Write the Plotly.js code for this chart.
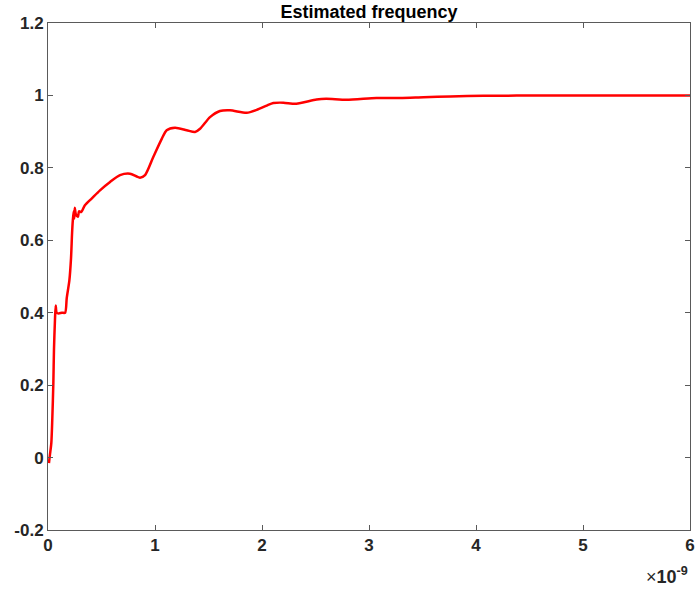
<!DOCTYPE html>
<html>
<head>
<meta charset="utf-8">
<script src="https://cdn.plot.ly/plotly-3.0.1.min.js"></script>
<style>html,body{margin:0;padding:0;background:#fff;}#chart{width:698px;height:592px;}</style>
</head>
<body>
<div id="chart"></div>
<script>
// time in units of 1e-9 s
const timeNs = [0.009, 0.019, 0.031, 0.040, 0.050, 0.056, 0.065, 0.072, 0.081, 0.10, 0.13, 0.16, 0.175, 0.20, 0.215, 0.225, 0.232, 0.24, 0.245, 0.25, 0.26, 0.28, 0.29, 0.31, 0.345, 0.41, 0.486, 0.58, 0.673, 0.766, 0.86, 0.907, 0.984, 1.063, 1.109, 1.187, 1.296, 1.374, 1.421, 1.514, 1.607, 1.701, 1.857, 1.95, 2.044, 2.106, 2.20, 2.32, 2.51, 2.60, 2.79, 3.07, 3.29, 3.51, 3.76, 4.07, 4.38, 5.0, 6.0];
const freq = [-0.015, 0.01, 0.04, 0.105, 0.206, 0.30, 0.38, 0.42, 0.40, 0.398, 0.40, 0.40, 0.44, 0.49, 0.55, 0.62, 0.655, 0.68, 0.66, 0.69, 0.672, 0.665, 0.68, 0.678, 0.697, 0.716, 0.738, 0.761, 0.78, 0.784, 0.773, 0.78, 0.83, 0.88, 0.904, 0.911, 0.904, 0.899, 0.908, 0.94, 0.957, 0.959, 0.952, 0.96, 0.972, 0.979, 0.98, 0.977, 0.989, 0.991, 0.988, 0.993, 0.993, 0.995, 0.997, 0.999, 0.9995, 1.0, 1.0];
const xTicks = [0, 1, 2, 3, 4, 5, 6];
const yTicks = [-0.2, 0, 0.2, 0.4, 0.6, 0.8, 1, 1.2];
const yTickText = ['-0.2', '0', '0.2', '0.4', '0.6', '0.8', '1', '1.2'];
const titleText = 'Estimated frequency';
const exponentText = '\u00d7<b>10<sup>-9</sup></b>';

const font = {family: 'Liberation Sans, Arial, sans-serif', size: 17, color: '#262626', weight: 'bold'};
const axisCommon = {
  showgrid: false, zeroline: false, showline: true, linecolor: '#5a5a5a', linewidth: 1,
  mirror: 'ticks', ticks: 'inside', ticklen: 5, tickcolor: '#5a5a5a',
  tickfont: font
};
Plotly.newPlot('chart', [{
  x: timeNs, y: freq, type: 'scatter', mode: 'lines',
  line: {color: '#ff0000', width: 2.5, shape: 'spline', smoothing: 0.7}
}], {
  width: 698, height: 592,
  margin: {l: 48, r: 8, t: 23, b: 62},
  paper_bgcolor: '#fff', plot_bgcolor: '#fff',
  showlegend: false,
  title: {text: '<b>' + titleText + '</b>', font: {family: font.family, size: 18, color: '#000'}, x: 0.5, xref: 'paper', y: 0.981, yanchor: 'middle'},
  xaxis: Object.assign({}, axisCommon, {range: [0, 6], tickvals: xTicks, ticktext: xTicks.map(String)}),
  yaxis: Object.assign({}, axisCommon, {range: [-0.2, 1.2], tickvals: yTicks, ticktext: yTickText}),
  annotations: [{
    text: exponentText, xref: 'paper', yref: 'paper', x: 1, y: -0.09,
    xanchor: 'right', yanchor: 'middle', showarrow: false,
    font: {family: font.family, size: 18, color: '#262626'}
  }]
}, {displayModeBar: false, staticPlot: true});
</script>
</body>
</html>
